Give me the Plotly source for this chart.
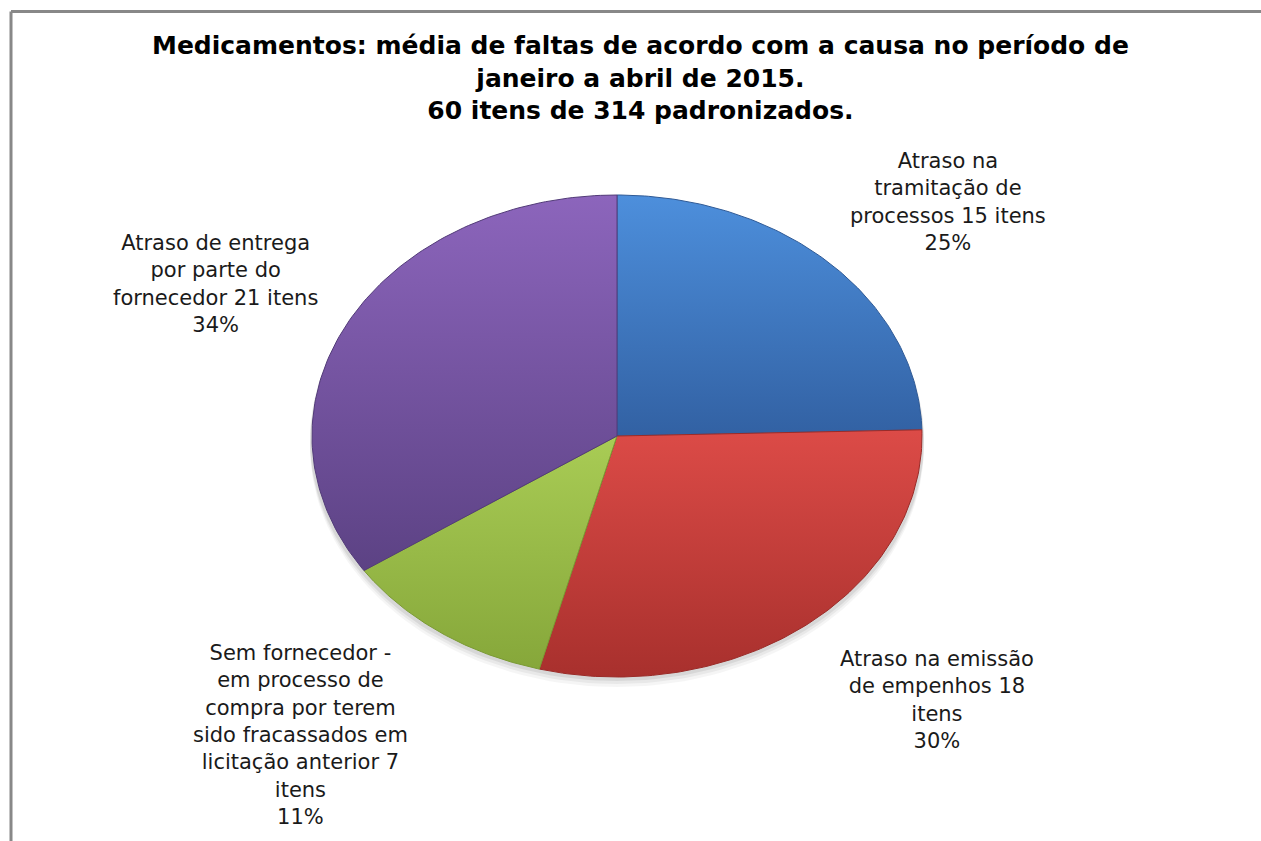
import numpy as np
import plotly.graph_objects as go

# ---- data ----
categories = [
    "Atraso na<br>tramitação de<br>processos 15 itens",
    "Atraso na emissão<br>de empenhos 18<br>itens",
    "Sem fornecedor -<br>em processo de<br>compra por terem<br>sido fracassados em<br>licitação anterior 7<br>itens",
    "Atraso de entrega<br>por parte do<br>fornecedor 21 itens",
]
values = [15, 18, 7, 21]
title_lines = [
    "Medicamentos: média de faltas de acordo com a causa no período de",
    "janeiro a abril de 2015.",
    "60 itens de 314 padronizados.",
]

# ---- style ----
light = ["#4d8fdc", "#dc4b47", "#a9cc55", "#8c65bc"]
dark = ["#3261a3", "#a8302d", "#86a73a", "#5c4284"]
edge = ["#2f5a96", "#9a2b28", "#7a9a33", "#523b78"]
label_pos = [(948, 202), (937, 700), (300, 735), (215, 284)]

W, H = 1261, 841
cx, cy, rx, ry = 617, 436, 305, 241

fig = go.Figure()

# soft shadow
for dy, a in [(10, 0.04), (7, 0.05), (4, 0.07)]:
    t = np.linspace(0, 2 * np.pi, 200)
    fig.add_trace(go.Scatter(
        x=cx + (rx + 2) * np.sin(t), y=cy + dy + ry * np.cos(t),
        mode="lines", fill="toself", line=dict(width=0),
        fillcolor=f"rgba(0,0,0,{a})", hoverinfo="skip", showlegend=False))

total = sum(values)
cum = np.concatenate([[0], np.cumsum(values)]) / total
for i, v in enumerate(values):
    a0, a1 = cum[i] * 2 * np.pi, cum[i + 1] * 2 * np.pi
    th = np.linspace(a0, a1, 120)
    xs = np.concatenate([[cx], cx + rx * np.sin(th), [cx]])
    ys = np.concatenate([[cy], cy - ry * np.cos(th), [cy]])
    fig.add_trace(go.Scatter(
        x=xs, y=ys, mode="lines", fill="toself",
        line=dict(color=edge[i], width=1),
        fillgradient=dict(type="vertical",
                          colorscale=[[0, dark[i]], [1, light[i]]]),
        name=categories[i].replace("<br>", " "), showlegend=False,
        hoverinfo="text", text=f"{v} ({v/total:.0%})"))

for i, v in enumerate(values):
    pct = round(100 * v / total)
    fig.add_annotation(x=label_pos[i][0], y=label_pos[i][1], xref="x", yref="y",
                       text=f"{categories[i]}<br>{pct}%", showarrow=False,
                       align="center",
                       font=dict(family="DejaVu Sans", size=21, color="#1a1a1a"))

fig.add_annotation(x=640, y=78, xref="x", yref="y", text="<br>".join(title_lines),
                   showarrow=False, align="center",
                   font=dict(family="DejaVu Sans", size=25, color="#000000",
                             weight="bold"))

fig.add_shape(type="line", xref="x", yref="y", x0=11, x1=W, y0=11.5, y1=11.5,
              line=dict(color="#888888", width=3))
fig.add_shape(type="line", xref="x", yref="y", x0=11, x1=11, y0=11.5, y1=H,
              line=dict(color="#888888", width=3))

fig.update_layout(
    width=W, height=H, margin=dict(l=0, r=0, t=0, b=0),
    paper_bgcolor="white", plot_bgcolor="white",
    xaxis=dict(range=[0, W], visible=False, fixedrange=True),
    yaxis=dict(range=[H, 0], visible=False, fixedrange=True),
    showlegend=False,
)
fig.write_html("out.html", config={"displayModeBar": False},
               post_script="document.body.style.margin='0';")
